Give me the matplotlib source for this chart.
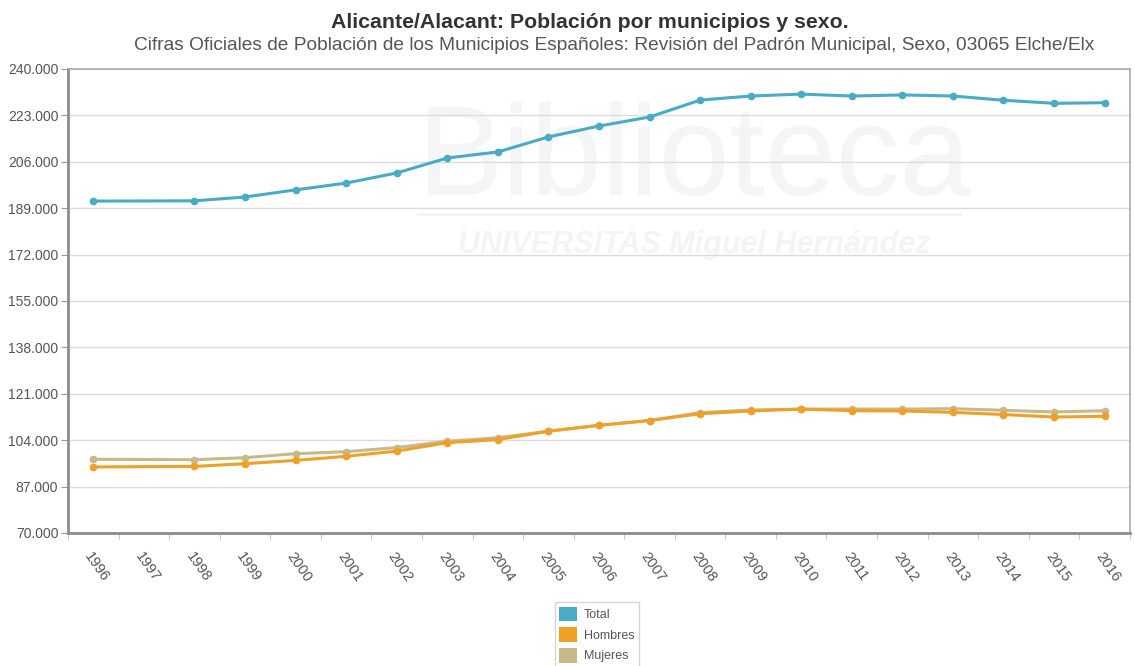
import numpy as np
import matplotlib
matplotlib.use('Agg')
import matplotlib.pyplot as plt
from matplotlib.ticker import FuncFormatter, FixedLocator
from matplotlib.patches import Patch

# eje x: todos los años, 1997 sin dato
year_labels = ['1996', '1997', '1998', '1999', '2000', '2001', '2002', '2003', '2004',
               '2005', '2006', '2007', '2008', '2009', '2010', '2011', '2012', '2013',
               '2014', '2015', '2016']
data_years = ['1996', '1998', '1999', '2000', '2001', '2002', '2003', '2004', '2005',
              '2006', '2007', '2008', '2009', '2010', '2011', '2012', '2013', '2014',
              '2015', '2016']

total = [191600, 191700, 193100, 195700, 198200, 201900, 207400, 209600, 215100, 219100,
         222400, 228600, 230100, 230800, 230100, 230500, 230100, 228550, 227430, 227650]
hombres = [94200, 94400, 95400, 96600, 98100, 100000, 103100, 104200, 107300, 109450,
           111200, 113700, 114700, 115400, 114800, 114700, 114200, 113400, 112500, 112750]
mujeres = [97000, 96850, 97600, 99050, 99800, 101300, 103600, 104900, 107300, 109450,
           111200, 114100, 115050, 115400, 115400, 115400, 115550, 114950, 114350, 114800]

y_ticks = [70000, 87000, 104000, 121000, 138000, 155000, 172000, 189000, 206000, 223000, 240000]

c_total = '#4aabc4'
c_hombres = '#eea126'
c_mujeres = '#c8b98a'

plt.rcParams['font.family'] = ['Liberation Sans', 'DejaVu Sans']

fig = plt.figure(figsize=(11.35, 6.66), dpi=100)
ax = fig.add_axes([0.0599, 0.1997, 0.9356, 0.6967])

xpos = [year_labels.index(y) for y in data_years]

# marca de agua de fondo
ax.text(0.59, 0.80, 'Biblioteca', transform=ax.transAxes, fontsize=92, color='#f5f5f5',
        ha='center', va='center', zorder=0)
ax.text(0.59, 0.62, 'UNIVERSITAS Miguel Hernández', transform=ax.transAxes, fontsize=22,
        color='#f4f4f4', ha='center', va='center', style='italic', weight='bold', zorder=0)
ax.plot([0.33, 0.84], [0.687, 0.687], transform=ax.transAxes, color='#f3f3f3', lw=2, zorder=0)

ax.plot(xpos, total, color=c_total, lw=2.2, marker='o', ms=4.5, zorder=3)
ax.plot(xpos, mujeres, color=c_mujeres, lw=2.2, marker='o', ms=4.5, zorder=3)
ax.plot(xpos, hombres, color=c_hombres, lw=2.2, marker='o', ms=4.5, zorder=3)

ax.set_ylim(70000, 240000)
ax.set_xlim(-0.5, len(year_labels) - 0.5)
ax.set_yticks(y_ticks)
ax.yaxis.set_major_formatter(FuncFormatter(lambda v, p: '{:,.0f}'.format(v).replace(',', '.')))
ax.grid(axis='y', color='#dcdcdc', lw=1)
ax.set_axisbelow(True)

ax.set_xticks(range(len(year_labels)))
ax.set_xticklabels(year_labels, rotation=-55, ha='left', va='top', rotation_mode='anchor')
ax.xaxis.set_minor_locator(FixedLocator(np.arange(-0.5, len(year_labels), 1)))
ax.tick_params(axis='x', which='major', length=0, pad=12, labelsize=10.5, labelcolor='#555555')
ax.tick_params(axis='x', which='minor', length=4, color='#bbbbbb')
ax.tick_params(axis='y', length=5, color='#999999', labelsize=10, labelcolor='#555555', pad=2)

for s in ['left', 'bottom']:
    ax.spines[s].set_color('#8c8c8c')
    ax.spines[s].set_linewidth(2)
for s in ['top', 'right']:
    ax.spines[s].set_color('#aaaaaa')
    ax.spines[s].set_linewidth(1.2)

fig.text(0.52, 0.966, 'Alicante/Alacant: Población por municipios y sexo.', ha='center',
         va='center', fontsize=15.3, weight='bold', color='#333333')
fig.text(0.541, 0.932, 'Cifras Oficiales de Población de los Municipios Españoles: Revisión del '
         'Padrón Municipal, Sexo, 03065 Elche/Elx', ha='center', va='center', fontsize=13.8,
         color='#555555')

handles = [Patch(facecolor=c_total, edgecolor='none', label='Total'),
           Patch(facecolor=c_hombres, edgecolor='none', label='Hombres'),
           Patch(facecolor=c_mujeres, edgecolor='none', label='Mujeres')]
leg = fig.legend(handles=handles, loc='upper center', bbox_to_anchor=(0.526, 0.105),
                 frameon=True, fontsize=9, handlelength=1.4, handleheight=1.4,
                 handletextpad=0.6, borderpad=0.35, labelspacing=0.5, fancybox=False)
leg.get_frame().set_edgecolor('#cccccc')
leg.get_frame().set_linewidth(1)
for t in leg.get_texts():
    t.set_color('#555555')

fig.savefig('out.png', dpi=100)
